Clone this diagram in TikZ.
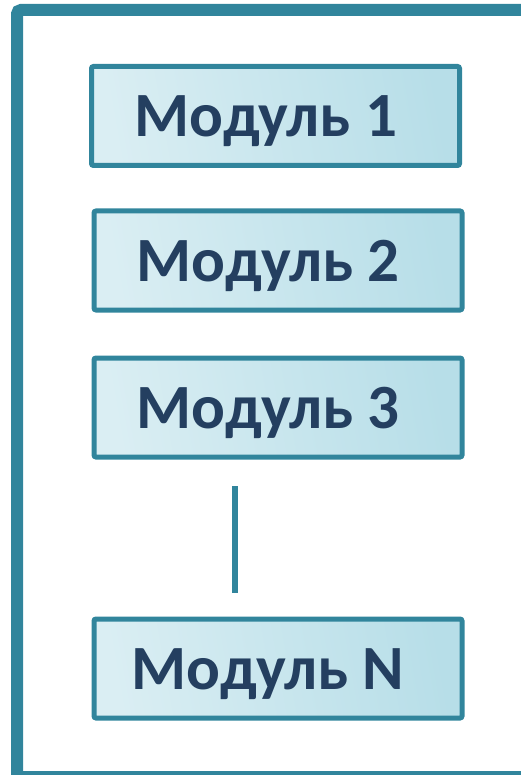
\documentclass[tikz,border=0pt]{standalone}
\usepackage{fontspec}
\setmainfont{Carlito}
\definecolor{frameteal}{HTML}{31859C}
\definecolor{boxlight}{HTML}{DAEEF3}
\definecolor{boxdark}{HTML}{B7DEE8}
\definecolor{modtext}{HTML}{243F60}
\newcommand{\modlabel}[1]{#1\hspace*{20pt}}
\tikzset{
    modbox/.style={draw=frameteal, line width=5pt, rounded corners=2pt,
        left color=boxlight, right color=boxdark, shading angle=100,
        minimum width=368pt, minimum height=99pt, inner sep=0pt,
        text height=48pt, text depth=6pt,
        text=modtext, font=\fontsize{63}{70}\selectfont\bfseries},
}
\begin{document}
\begin{tikzpicture}[x=1pt,y=-1pt]
    \useasboundingbox (0,0) rectangle (520,775);

    % Outer frame (runs off the right and bottom edge)
    \draw[frameteal, line width=12pt, rounded corners=4pt]
        (560,10) -- (17,10) -- (17,777) -- (560,777);

    % Modules
    \node[modbox] (mod1) at (275.5,116) {\modlabel{Модуль 1}};
    \node[modbox] (mod2) at (278,260.5) {\modlabel{Модуль 2}};
    \node[modbox] (mod3) at (278,407.5) {\modlabel{Модуль 3}};
    \node[modbox] (modN) at (278,668.5) {\modlabel{Модуль N}};

    % Gap between module 3 and module N
    \coordinate (gaptop) at (235,486);
    \coordinate (gapbot) at (235,593);
    \draw[frameteal, line width=6pt] (gaptop) -- (gapbot);
\end{tikzpicture}
\end{document}
